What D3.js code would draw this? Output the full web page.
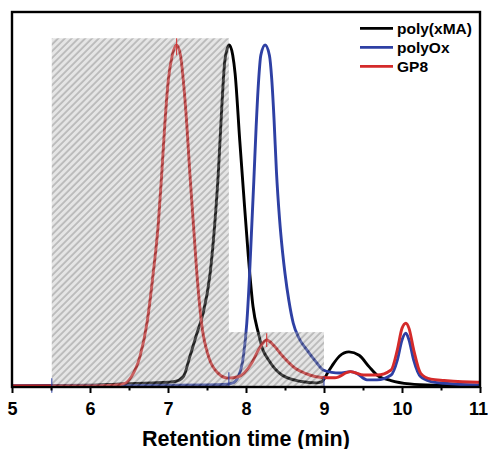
<!DOCTYPE html>
<html>
<head>
<meta charset="utf-8">
<script src="https://cdn.jsdelivr.net/npm/d3@7/dist/d3.min.js"></script>
<style>
  html, body { margin: 0; padding: 0; background: #fff; }
  svg { display: block; font-family: "Liberation Sans", Arial, sans-serif; }
</style>
</head>
<body>
<svg id="chart" width="488" height="449"></svg>
<script>
// Normalised GPC traces: [retention time (min), relative intensity]
const polyXMA = [
  [5.0, 0.0], [6.0, 0.002], [6.4, 0.006], [6.8, 0.009], [7.0, 0.011], [7.09, 0.013],
  [7.196, 0.027], [7.28, 0.086], [7.37, 0.154], [7.45, 0.213], [7.54, 0.33], [7.6, 0.477],
  [7.645, 0.624], [7.69, 0.82], [7.73, 0.956], [7.785, 1.0], [7.83, 0.97], [7.86, 0.917],
  [7.92, 0.72], [7.966, 0.575], [8.03, 0.38], [8.09, 0.233], [8.16, 0.154], [8.21, 0.11],
  [8.29, 0.076], [8.46, 0.032], [8.71, 0.013], [8.9, 0.009], [8.97, 0.012], [9.0, 0.02],
  [9.05, 0.04], [9.1, 0.058], [9.2, 0.088], [9.32, 0.1], [9.45, 0.09], [9.58, 0.056],
  [9.68, 0.032], [9.86, 0.016], [10.1, 0.006], [10.4, 0.002], [11.0, 0.0]
];
const polyOx = [
  [5.0, 0.0], [6.5, 0.001], [7.5, 0.003], [7.75, 0.005], [7.82, 0.008], [7.9, 0.027],
  [7.966, 0.086], [8.01, 0.184], [8.04, 0.3], [8.07, 0.45], [8.1, 0.6], [8.13, 0.76],
  [8.16, 0.89], [8.19, 0.97], [8.245, 1.0], [8.3, 0.97], [8.33, 0.9], [8.36, 0.78],
  [8.39, 0.63], [8.43, 0.49], [8.47, 0.39], [8.5, 0.33], [8.55, 0.25], [8.606, 0.184],
  [8.68, 0.14], [8.78, 0.106], [8.9, 0.07], [8.99, 0.047], [9.1, 0.04], [9.2, 0.038],
  [9.34, 0.042], [9.42, 0.037], [9.55, 0.018], [9.68, 0.018], [9.86, 0.032], [9.94, 0.076],
  [10.0, 0.135], [10.05, 0.155], [10.09, 0.135], [10.15, 0.076], [10.24, 0.027],
  [10.37, 0.013], [10.54, 0.008], [10.97, 0.003], [11.0, 0.003]
];
const gp8 = [
  [5.0, 0.0], [6.0, 0.0], [6.3, 0.002], [6.45, 0.008], [6.53, 0.027], [6.64, 0.086],
  [6.73, 0.184], [6.81, 0.33], [6.876, 0.477], [6.92, 0.624], [6.96, 0.77], [7.004, 0.897],
  [7.055, 0.97], [7.11, 1.0], [7.16, 0.97], [7.196, 0.897], [7.24, 0.77], [7.28, 0.624],
  [7.325, 0.477], [7.37, 0.33], [7.43, 0.184], [7.52, 0.086], [7.645, 0.037], [7.77, 0.023],
  [7.9, 0.027], [8.07, 0.066], [8.17, 0.11], [8.265, 0.135], [8.36, 0.118], [8.46, 0.09],
  [8.63, 0.052], [8.76, 0.037], [8.97, 0.025], [9.14, 0.024], [9.34, 0.042], [9.51, 0.032],
  [9.68, 0.032], [9.86, 0.047], [9.94, 0.106], [10.0, 0.169], [10.05, 0.184], [10.09, 0.169],
  [10.15, 0.106], [10.24, 0.037], [10.37, 0.02], [10.54, 0.016], [10.97, 0.011], [11.0, 0.011]
];

const seriesNames = ["poly(xMA)", "polyOx", "GP8"];
const seriesColors = ["#000000", "#2e40a4", "#d42a2a"];
const seriesData = [polyXMA, polyOx, gp8];

// Shaded integration windows: [start, end, top intensity]
const hatchWindows = [[5.51, 7.78, 1.02], [7.78, 9.0, 0.158]];

// Integration limit / peak markers: [time, from, to, series index]
const markers = [
  [5.51, -0.02, 0.023, 1], [7.78, -0.003, 0.04, 1], [9.0, -0.003, 0.026, 1],
  [7.11, 0.97, 1.02, 2], [8.265, 0.114, 0.155, 2]
];

const xTicks = [5, 6, 7, 8, 9, 10, 11];
const xMinorTicks = [5.5, 6.5, 7.5, 8.5, 9.5, 10.5];
const xTitle = "Retention time (min)";

const svg = d3.select("#chart");
const plotLeft = 12, plotRight = 480, plotTop = 12, plotBottom = 387;

const x = d3.scaleLinear().domain([5, 11]).range([plotLeft, plotRight]);
const y = d3.scaleLinear().domain([-0.003, 1.097]).range([plotBottom, plotTop]);

const defs = svg.append("defs");
const pat = defs.append("pattern")
  .attr("id", "hatch")
  .attr("patternUnits", "userSpaceOnUse")
  .attr("width", 4.8).attr("height", 4.8)
  .attr("patternTransform", "rotate(45)");
pat.append("rect").attr("width", 4.8).attr("height", 4.8).attr("fill", "#bcbcbc");
pat.append("line").attr("x1", 1).attr("x2", 1).attr("y1", 0).attr("y2", 4.8)
  .attr("stroke", "#1e1e1e").attr("stroke-width", 1.3);

defs.append("clipPath").attr("id", "plotclip")
  .append("rect").attr("x", plotLeft).attr("y", plotTop)
  .attr("width", plotRight - plotLeft).attr("height", plotBottom - plotTop);

// Traces
const line = d3.line()
  .x(d => x(d[0]))
  .y(d => y(d[1]))
  .curve(d3.curveMonotoneX);

const traces = svg.append("g").attr("clip-path", "url(#plotclip)");
seriesData.forEach((data, i) => {
  traces.append("path")
    .datum(data)
    .attr("d", line)
    .attr("fill", "none")
    .attr("stroke", seriesColors[i])
    .attr("stroke-width", 2.9)
    .attr("stroke-linejoin", "round");
});

// Translucent hatched windows on top of the traces
svg.append("g").attr("opacity", 0.38)
  .selectAll("rect")
  .data(hatchWindows)
  .join("rect")
  .attr("x", d => x(d[0]))
  .attr("width", d => x(d[1]) - x(d[0]))
  .attr("y", d => y(d[2]))
  .attr("height", d => y(-0.003) - y(d[2]))
  .attr("fill", "url(#hatch)");

// Marker ticks
svg.append("g")
  .selectAll("line")
  .data(markers)
  .join("line")
  .attr("x1", d => x(d[0])).attr("x2", d => x(d[0]))
  .attr("y1", d => y(d[1])).attr("y2", d => y(d[2]))
  .attr("stroke", d => seriesColors[d[3]])
  .attr("stroke-width", 1.2)
  .attr("opacity", 0.85);

// Bottom axis: major and minor ticks pointing out
const axisG = svg.append("g").attr("transform", `translate(0,${plotBottom})`);
axisG.call(d3.axisBottom(x).tickValues(xTicks).tickSize(6).tickFormat(d3.format("d")))
  .call(g => g.select(".domain").remove())
  .call(g => g.selectAll(".tick line").attr("stroke", "#000").attr("stroke-width", 2))
  .call(g => g.selectAll(".tick text")
    .attr("y", 28).attr("dy", 0)
    .attr("dx", d => d === 11 ? -2 : 0)
    .attr("fill", "#000")
    .style("font-family", "'Liberation Sans', Arial, sans-serif")
    .style("font-size", "18px").style("font-weight", "bold"));

svg.append("g").attr("transform", `translate(0,${plotBottom})`)
  .call(d3.axisBottom(x).tickValues(xMinorTicks).tickSize(3.5).tickFormat(""))
  .call(g => g.select(".domain").remove())
  .call(g => g.selectAll(".tick line").attr("stroke", "#000").attr("stroke-width", 2));

// Frame
svg.append("rect")
  .attr("x", plotLeft).attr("y", plotTop)
  .attr("width", plotRight - plotLeft).attr("height", plotBottom - plotTop)
  .attr("fill", "none").attr("stroke", "#000").attr("stroke-width", 2.4);

// Axis title
svg.append("text")
  .attr("x", (plotLeft + plotRight) / 2)
  .attr("y", 445.5)
  .attr("text-anchor", "middle")
  .style("font-size", "21.5px").style("font-weight", "bold")
  .text(xTitle);

// Legend
const legend = svg.append("g");
seriesNames.forEach((name, i) => {
  const ly = 28.3 + i * 19;
  legend.append("line")
    .attr("x1", 360).attr("x2", 393).attr("y1", ly).attr("y2", ly)
    .attr("stroke", seriesColors[i]).attr("stroke-width", 2.8);
  legend.append("text")
    .attr("x", 397).attr("y", ly + 5.8)
    .style("font-size", "15.5px").style("font-weight", "bold")
    .text(name);
});
</script>
</body>
</html>
